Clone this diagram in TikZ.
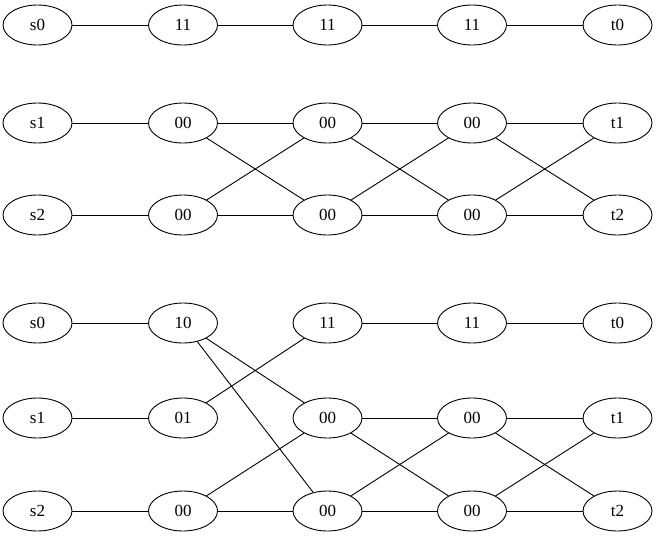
\documentclass[tikz,border=0pt]{standalone}
\usepackage{fontspec}
\setmainfont{Liberation Serif}
\usetikzlibrary{shapes.geometric}

\begin{document}
\begin{tikzpicture}[x=1pt, y=-1pt,
    state/.style={draw, ellipse, line width=0.9pt, minimum width=69pt, minimum height=40pt, inner sep=0pt, font=\fontsize{17}{19}\selectfont},
    link/.style={line width=0.9pt}]
    \useasboundingbox (0,0) rectangle (656,541);
    % upper graph
    \node[state] (us0) at (37.5,25) {s0};
    \node[state] (ua1) at (183,25) {11};
    \node[state] (ua2) at (327.5,25) {11};
    \node[state] (ua3) at (472,25) {11};
    \node[state] (ut0) at (617.5,25) {t0};
    \node[state] (us1) at (37.5,123) {s1};
    \node[state] (ub1) at (183,123) {00};
    \node[state] (ub2) at (327.5,123) {00};
    \node[state] (ub3) at (472,123) {00};
    \node[state] (ut1) at (617.5,123) {t1};
    \node[state] (us2) at (37.5,215) {s2};
    \node[state] (uc1) at (183,215) {00};
    \node[state] (uc2) at (327.5,215) {00};
    \node[state] (uc3) at (472,215) {00};
    \node[state] (ut2) at (617.5,215) {t2};
    \draw[link] (us0) -- (ua1) -- (ua2) -- (ua3) -- (ut0);
    \draw[link] (us1) -- (ub1) -- (ub2) -- (ub3) -- (ut1);
    \draw[link] (us2) -- (uc1) -- (uc2) -- (uc3) -- (ut2);
    \draw[link] (ub1) -- (uc2);
    \draw[link] (uc1) -- (ub2);
    \draw[link] (ub2) -- (uc3);
    \draw[link] (uc2) -- (ub3);
    \draw[link] (ub3) -- (ut2);
    \draw[link] (uc3) -- (ut1);
    % lower graph
    \node[state] (ls0) at (37.5,323) {s0};
    \node[state] (la1) at (183,323) {10};
    \node[state] (la2) at (327.5,323) {11};
    \node[state] (la3) at (472,323) {11};
    \node[state] (lt0) at (617.5,323) {t0};
    \node[state] (ls1) at (37.5,418) {s1};
    \node[state] (lb1) at (183,418) {01};
    \node[state] (lb2) at (327.5,418) {00};
    \node[state] (lb3) at (472,418) {00};
    \node[state] (lt1) at (617.5,418) {t1};
    \node[state] (ls2) at (37.5,511) {s2};
    \node[state] (lc1) at (183,511) {00};
    \node[state] (lc2) at (327.5,511) {00};
    \node[state] (lc3) at (472,511) {00};
    \node[state] (lt2) at (617.5,511) {t2};
    \draw[link] (ls0) -- (la1);
    \draw[link] (la2) -- (la3) -- (lt0);
    \draw[link] (ls1) -- (lb1);
    \draw[link] (lb2) -- (lb3) -- (lt1);
    \draw[link] (ls2) -- (lc1) -- (lc2) -- (lc3) -- (lt2);
    \draw[link] (la1) -- (lb2);
    \draw[link] (la1) -- (lc2);
    \draw[link] (lb1) -- (la2);
    \draw[link] (lc1) -- (lb2);
    \draw[link] (lb2) -- (lc3);
    \draw[link] (lc2) -- (lb3);
    \draw[link] (lb3) -- (lt2);
    \draw[link] (lc3) -- (lt1);
\end{tikzpicture}
\end{document}
